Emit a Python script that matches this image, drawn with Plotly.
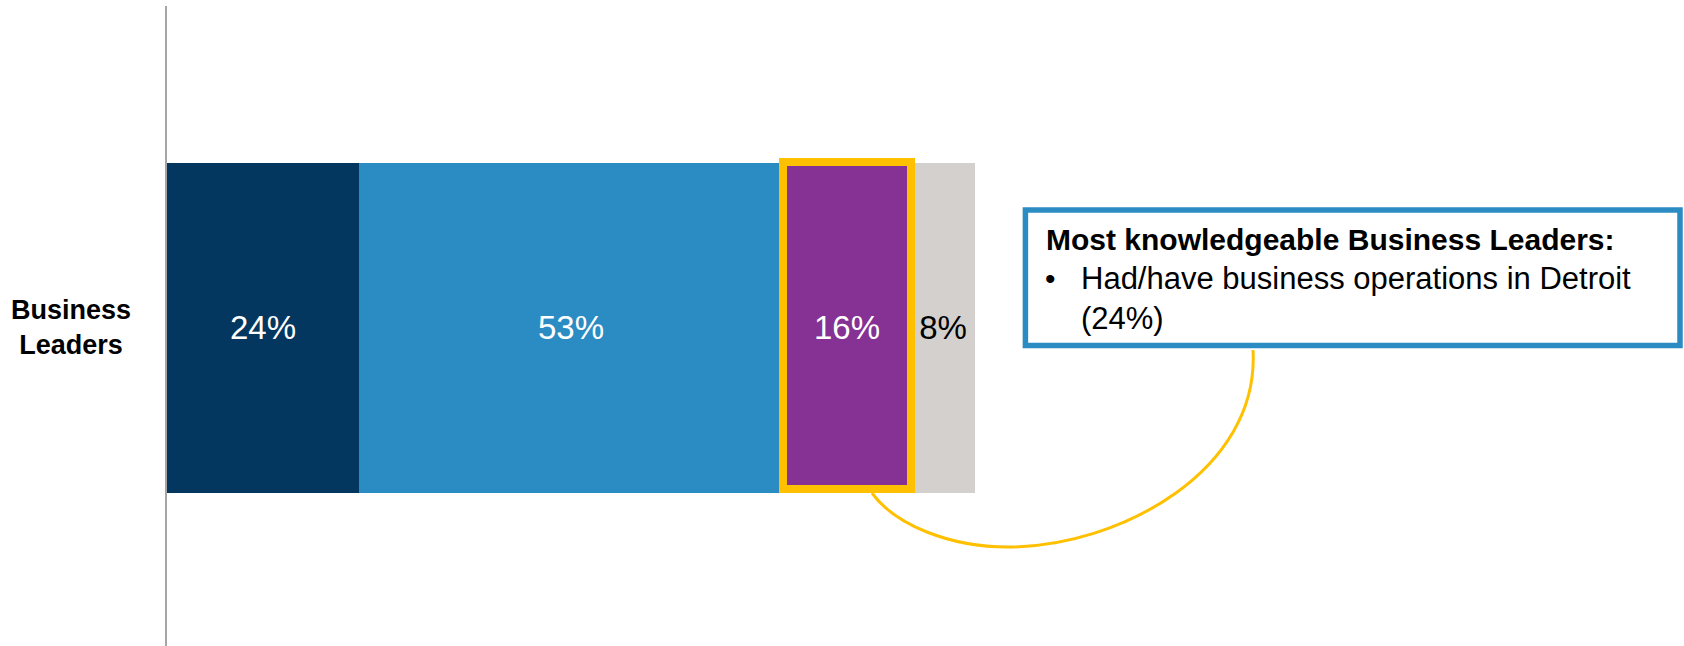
import plotly.graph_objects as go

# ---- data -------------------------------------------------------------
categories = ["Business Leaders"]
segment_names = ["Segment 1", "Segment 2", "Segment 3", "Segment 4"]
segment_values = [24, 53, 16, 8]
segment_colors = ["#03375F", "#2A8CC2", "#853294", "#D3D0CD"]
label_colors = ["#FFFFFF", "#FFFFFF", "#FFFFFF", "#000000"]
highlight_index = 2

row_label = "Business<br>Leaders"
callout_title = "Most knowledgeable Business Leaders:"
callout_body = "Had/have business operations in Detroit<br>(24%)"

# ---- geometry -----------------------------------------------------------
W, H = 1684, 646
ML, MT = 167, 6
PW, PH = W - ML, H - MT
PX_PER_PCT = 8.0
X_MAX = PW / PX_PER_PCT
Y_TOP = 0.503
Y_BOTTOM = Y_TOP - 1.0
BAR_W = 330 / PH

FONT = "Liberation Sans, Arial, sans-serif"
GOLD = "#FFC000"
BLUE = "#2A8CC2"


def fx(px):
    """pixel x -> paper x"""
    return (px - ML) / PW


def fy(py):
    """pixel y -> paper y"""
    return (H - py) / PH


fig = go.Figure()
for name, val, col, tcol in zip(segment_names, segment_values, segment_colors, label_colors):
    fig.add_trace(go.Bar(
        y=categories, x=[val], name=name, orientation="h",
        width=BAR_W, marker=dict(color=col, line=dict(width=0)),
        texttemplate="%{x}%", textposition="inside", insidetextanchor="middle",
        textangle=0, constraintext="none",
        textfont=dict(family=FONT, size=33, color=tcol),
        showlegend=False, hoverinfo="skip",
    ))

shapes = []
# highlight frame around one segment
hx0 = sum(segment_values[:highlight_index])
hx1 = hx0 + segment_values[highlight_index]
shapes.append(dict(
    type="rect", xref="x", yref="y", x0=hx0, x1=hx1,
    y0=-BAR_W / 2 + 4 / PH, y1=BAR_W / 2 + 1 / PH,
    line=dict(color=GOLD, width=8), fillcolor="rgba(0,0,0,0)", layer="above",
))
# connector curve from the frame to the callout box
curve = (
    f"M {fx(872)},{fy(493)} "
    f"C {fx(895)},{fy(525)} {fx(950)},{fy(547)} {fx(1008)},{fy(547)} "
    f"C {fx(1120)},{fy(547)} {fx(1260)},{fy(470)} {fx(1253)},{fy(350)}"
)
shapes.append(dict(type="path", xref="paper", yref="paper", path=curve,
                   line=dict(color=GOLD, width=3), layer="above"))
# callout box
shapes.append(dict(
    type="rect", xref="paper", yref="paper",
    x0=fx(1025.4), x1=fx(1680), y0=fy(345.5), y1=fy(210),
    line=dict(color=BLUE, width=5.5), fillcolor="#FFFFFF", layer="above",
))

annotations = [
    dict(text=f"<b>{row_label}</b>", xref="paper", yref="paper", x=fx(71), y=fy(327.5),
         xanchor="center", yanchor="middle", align="center", showarrow=False,
         font=dict(family=FONT, size=27, color="#000000")),
    dict(text=f"<b>{callout_title}</b>", xref="paper", yref="paper",
         x=fx(1044), y=fy(239.5), xanchor="left", yanchor="middle",
         showarrow=False, font=dict(family=FONT, size=30, color="#000000")),
    dict(text="•", xref="paper", yref="paper", x=fx(1043), y=fy(278.5),
         xanchor="left", yanchor="middle", showarrow=False,
         font=dict(family=FONT, size=30, color="#000000")),
    dict(text=callout_body, xref="paper", yref="paper", x=fx(1079), y=fy(298),
         xanchor="left", yanchor="middle", align="left", showarrow=False,
         font=dict(family=FONT, size=31, color="#000000")),
]

fig.update_layout(
    width=W, height=H, barmode="stack",
    margin=dict(l=ML, r=0, t=MT, b=0, pad=0),
    paper_bgcolor="#FFFFFF", plot_bgcolor="#FFFFFF",
    xaxis=dict(range=[0, X_MAX], visible=False, fixedrange=True),
    yaxis=dict(range=[Y_BOTTOM, Y_TOP], showticklabels=False, showgrid=False,
               zeroline=False, showline=True, linecolor="#A6A6A6", linewidth=2,
               ticks="", fixedrange=True),
    shapes=shapes, annotations=annotations,
    font=dict(family=FONT),
)

fig.write_html("out.html", config={"displayModeBar": False})
